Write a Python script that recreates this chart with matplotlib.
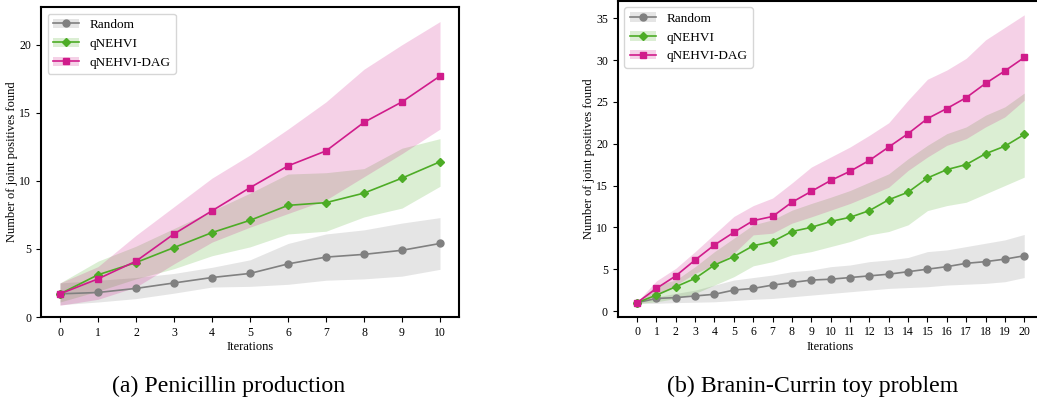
import matplotlib
matplotlib.use("Agg")
import matplotlib.pyplot as plt
from matplotlib.patches import Patch
from matplotlib.lines import Line2D

plt.rcParams['font.family'] = ['Liberation Serif', 'DejaVu Serif']

# ---------------- data: (a) Penicillin production ----------------
iters_a = list(range(11))
rand_a = [1.7, 1.8, 2.1, 2.5, 2.9, 3.2, 3.9, 4.4, 4.6, 4.9, 5.4]
rand_a_lo = [0.9, 1.1, 1.35, 1.75, 2.2, 2.25, 2.4, 2.7, 2.8, 3.0, 3.5]
rand_a_hi = [2.5, 2.7, 2.9, 3.2, 3.65, 4.2, 5.4, 6.1, 6.4, 6.9, 7.3]

nehvi_a = [1.7, 3.1, 4.0, 5.1, 6.2, 7.1, 8.2, 8.4, 9.1, 10.2, 11.4]
nehvi_a_lo = [1.1, 1.9, 2.8, 3.55, 4.5, 5.15, 6.1, 6.3, 7.35, 8.0, 9.6]
nehvi_a_hi = [2.5, 4.1, 5.2, 6.5, 7.8, 9.1, 10.5, 10.6, 10.9, 12.4, 13.1]

dag_a = [1.7, 2.8, 4.1, 6.1, 7.8, 9.5, 11.1, 12.2, 14.3, 15.8, 17.7]
dag_a_lo = [0.86, 1.3, 2.2, 3.9, 5.5, 6.6, 7.6, 8.6, 10.3, 12.0, 13.8]
dag_a_hi = [2.5, 3.7, 6.0, 8.1, 10.2, 11.9, 13.8, 15.8, 18.2, 20.0, 21.7]

# ---------------- data: (b) Branin-Currin toy problem ----------------
iters_b = list(range(21))
rand_b = [1.0, 1.5, 1.6, 1.8, 2.0, 2.5, 2.7, 3.1, 3.4, 3.7, 3.8, 4.0, 4.2,
          4.4, 4.7, 5.0, 5.3, 5.7, 5.9, 6.2, 6.6]
rand_b_lo = [0.9, 0.92, 1.0, 1.05, 1.1, 1.25, 1.4, 1.5, 1.7, 1.9, 2.1, 2.3,
             2.5, 2.7, 2.8, 2.9, 3.1, 3.2, 3.3, 3.5, 4.0]
rand_b_hi = [1.1, 1.7, 2.1, 2.5, 3.1, 3.7, 4.0, 4.3, 4.7, 4.9, 5.3, 5.5,
             5.9, 6.1, 6.4, 7.1, 7.3, 7.7, 8.1, 8.5, 9.15]

nehvi_b = [1.0, 1.9, 2.9, 3.9, 5.5, 6.5, 7.8, 8.3, 9.5, 10.0, 10.7, 11.2,
           12.0, 13.3, 14.2, 15.9, 16.9, 17.5, 18.8, 19.7, 21.1]
nehvi_b_lo = [0.9, 1.1, 1.5, 2.1, 3.1, 4.1, 5.4, 5.9, 6.7, 7.1, 7.7, 8.3,
              9.1, 9.5, 10.3, 12.0, 12.6, 13.0, 14.0, 15.0, 16.0]
nehvi_b_hi = [1.1, 3.1, 3.7, 5.3, 7.1, 8.7, 10.3, 10.9, 12.05, 12.85, 13.6,
              14.4, 15.4, 16.4, 18.2, 19.8, 21.2, 22.0, 23.4, 24.4, 26.05]

dag_b = [1.0, 2.7, 4.2, 6.1, 7.9, 9.4, 10.8, 11.3, 13.0, 14.3, 15.6, 16.7,
         18.0, 19.6, 21.2, 23.0, 24.2, 25.5, 27.2, 28.7, 30.3]
dag_b_lo = [0.9, 1.8, 3.1, 4.5, 5.5, 6.9, 9.1, 9.3, 10.5, 11.25, 12.05,
            12.85, 13.8, 14.8, 16.8, 18.4, 19.8, 20.6, 22.0, 23.2, 25.2]
dag_b_hi = [1.1, 3.6, 5.1, 7.1, 9.2, 11.3, 12.6, 13.5, 15.3, 17.2, 18.4,
            19.6, 21.0, 22.5, 25.2, 27.7, 28.8, 30.2, 32.4, 33.9, 35.4]

labels = ["Random", "qNEHVI", "qNEHVI-DAG"]
colors = ["#808080", "#4dac26", "#d01c8b"]
markers = ["o", "D", "s"]
msizes = [5, 4.5, 5]

captions = ["(a) Penicillin production", "(b) Branin-Currin toy problem"]

W, H = 1037, 397
fig = plt.figure(figsize=(W / 100, H / 100), dpi=100)

def px_axes(x0, x1, y0, y1):
    return fig.add_axes([x0 / W, 1 - y1 / H, (x1 - x0) / W, (y1 - y0) / H])

ax_a = px_axes(41, 459, 7, 317)
ax_b = px_axes(617.7, 1043.6, 0.6, 316.7)

def draw(ax, x, series, xlim, ylim, yticks):
    handles = []
    for (mean, lo, hi), lab, c, m, ms in zip(series, labels, colors, markers, msizes):
        ax.fill_between(x, lo, hi, color=c, alpha=0.2, linewidth=0)
    for (mean, lo, hi), lab, c, m, ms in zip(series, labels, colors, markers, msizes):
        ax.plot(x, mean, color=c, marker=m, markersize=ms, linewidth=1.2)
        handles.append((Patch(facecolor=c, alpha=0.2, edgecolor='none'),
                        Line2D([], [], color=c, marker=m, markersize=ms, linewidth=1.2)))
    ax.legend(handles, labels, loc="upper left", fontsize=9.5)
    ax.set_xlim(*xlim)
    ax.set_ylim(*ylim)
    ax.set_xticks(x)
    ax.set_yticks(yticks)
    ax.tick_params(labelsize=8.5, length=3.5, width=0.8, top=False, right=False)
    for sp in ax.spines.values():
        sp.set_linewidth(1.5)
    ax.set_xlabel("Iterations", fontsize=9, labelpad=2)
    ax.set_ylabel("Number of joint positives found", fontsize=9, labelpad=1)

draw(ax_a, iters_a,
     [(rand_a, rand_a_lo, rand_a_hi), (nehvi_a, nehvi_a_lo, nehvi_a_hi), (dag_a, dag_a_lo, dag_a_hi)],
     (-0.5, 10.5), (0, 22.77), [0, 5, 10, 15, 20])
draw(ax_b, iters_b,
     [(rand_b, rand_b_lo, rand_b_hi), (nehvi_b, nehvi_b_lo, nehvi_b_hi), (dag_b, dag_b_lo, dag_b_hi)],
     (-1.0, 21.0), (-0.68, 37.1), [0, 5, 10, 15, 20, 25, 30, 35])

fig.text(229 / W, 1 - 386.5 / H, captions[0], ha="center", va="center", fontsize=17.2)
fig.text(813 / W, 1 - 386.5 / H, captions[1], ha="center", va="center", fontsize=17.2)

fig.savefig("out.png", dpi=100)
